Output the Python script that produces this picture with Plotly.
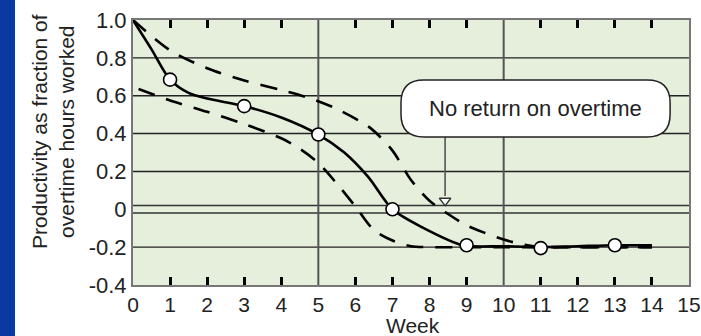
import plotly.graph_objects as go

# ---- data ----
weeks_solid = [0, 0.5, 1, 1.5, 2, 3, 4, 5, 5.7, 6.35, 7, 7.8, 8.9, 10, 11, 12, 13, 14]
prod_solid = [1.0, 0.845, 0.685, 0.615, 0.585, 0.545, 0.485, 0.395, 0.30, 0.17, 0.0, -0.095,
              -0.19, -0.195, -0.2, -0.195, -0.19, -0.19]

weeks_points = [1, 3, 5, 7, 9, 11, 13]
prod_points = [0.685, 0.545, 0.395, 0.0, -0.19, -0.205, -0.19]

weeks_upper = [0, 1, 2, 3, 4, 4.8, 5.5, 6.4, 7, 7.5, 8, 8.5, 9, 9.5, 10, 10.5, 11, 12, 14]
prod_upper = [1.0, 0.84, 0.745, 0.68, 0.63, 0.585, 0.53, 0.43, 0.31, 0.155, 0.045, -0.025,
              -0.085, -0.125, -0.16, -0.185, -0.2, -0.2, -0.2]

weeks_lower = [0.15, 1, 2, 3, 4, 4.5, 5, 5.5, 6, 6.5, 7, 7.5, 8, 10, 14]
prod_lower = [0.635, 0.575, 0.515, 0.45, 0.375, 0.32, 0.245, 0.135, 0.015, -0.11, -0.165,
              -0.195, -0.2, -0.2, -0.2]

x_ticks = list(range(0, 16))
y_ticks = [-0.4, -0.2, 0, 0.2, 0.4, 0.6, 0.8, 1.0]
y_labels = ["-0.4", "-0.2", "0", "0.2", "0.4", "0.6", "0.8", "1.0"]
minor_ticks = [1, 2, 3, 4, 6, 7, 8, 9, 11, 12, 13, 14]
major_grid_x = [5, 10]
zero_pair = [0.02, -0.02]

box_text = "No return on overtime"
y_title = "Productivity as fraction of<br>overtime hours worked"
x_title = "Week"

FONT = "Liberation Sans, Arial, sans-serif"
TXT = "#222222"
FS = 22

fig = go.Figure()

dash = "17px,12px"
fig.add_trace(go.Scatter(x=weeks_upper, y=prod_upper, mode="lines",
                         line=dict(color="black", width=2.6, dash=dash, shape="spline", smoothing=0.8),
                         hoverinfo="skip", showlegend=False))
fig.add_trace(go.Scatter(x=weeks_lower, y=prod_lower, mode="lines",
                         line=dict(color="black", width=2.6, dash=dash, shape="spline", smoothing=0.8),
                         hoverinfo="skip", showlegend=False))
fig.add_trace(go.Scatter(x=weeks_solid, y=prod_solid, mode="lines",
                         line=dict(color="black", width=2.6, shape="spline", smoothing=0.8),
                         hoverinfo="skip", showlegend=False))
fig.add_trace(go.Scatter(x=weeks_points, y=prod_points, mode="markers",
                         marker=dict(symbol="circle", size=13, color="white",
                                     line=dict(color="black", width=1.6)),
                         hoverinfo="skip", showlegend=False))

# arrow marker (triangle) below the callout box
arrow_x = 8.42
fig.add_trace(go.Scatter(x=[arrow_x], y=[0.045], mode="markers",
                         marker=dict(symbol="triangle-down", size=10, color="white",
                                     line=dict(color="#333333", width=1.3)),
                         hoverinfo="skip", showlegend=False))

shapes = []
# blue strip on the left
shapes.append(dict(type="rect", xref="paper", yref="paper", x0=-133 / 556, x1=(15 - 133) / 556,
                   y0=-0.5, y1=1.5, fillcolor="#0a39a2", line=dict(width=0), layer="below"))
# horizontal grid lines
for v in y_ticks:
    if v in (-0.4, 1.0):
        continue
    if v == 0:
        for z in zero_pair:
            shapes.append(dict(type="line", xref="paper", yref="y", x0=0, x1=1, y0=z, y1=z,
                               line=dict(color="#333333", width=1.4), layer="below"))
    else:
        shapes.append(dict(type="line", xref="paper", yref="y", x0=0, x1=1, y0=v, y1=v,
                           line=dict(color="#222222", width=1.4), layer="below"))
# vertical grid lines
for gx in major_grid_x:
    shapes.append(dict(type="line", xref="x", yref="paper", x0=gx, x1=gx, y0=0, y1=1,
                       line=dict(color="#555555", width=2), layer="below"))
# arrow stem
shapes.append(dict(type="line", xref="x", yref="y", x0=arrow_x, x1=arrow_x, y0=0.39, y1=0.07,
                   line=dict(color="#555555", width=1.6), layer="above"))

# rounded callout box
bx0, bx1, by0, by1 = 7.23, 14.49, 0.382, 0.683
rx, ry = 0.62, 0.12
path = (f"M {bx0+rx},{by1} L {bx1-rx},{by1} Q {bx1},{by1} {bx1},{by1-ry} "
        f"L {bx1},{by0+ry} Q {bx1},{by0} {bx1-rx},{by0} L {bx0+rx},{by0} "
        f"Q {bx0},{by0} {bx0},{by0+ry} L {bx0},{by1-ry} Q {bx0},{by1} {bx0+rx},{by1} Z")
shapes.append(dict(type="path", xref="x", yref="y", path=path, fillcolor="white",
                   line=dict(color="#222222", width=1.5), layer="above"))

fig.update_layout(
    width=701, height=336,
    margin=dict(l=133, r=12, t=20, b=51, autoexpand=False),
    paper_bgcolor="white", plot_bgcolor="#e6eedc",
    shapes=shapes,
    font=dict(family=FONT, size=FS, color=TXT),
    annotations=[
        dict(x=10.85, y=0.535, xref="x", yref="y", text=box_text, showarrow=False,
             font=dict(size=FS, color=TXT, family=FONT)),
        dict(x=(53 - 133) / 556, y=(285 - 132) / 265, xref="paper", yref="paper",
             text=y_title, textangle=-90, showarrow=False, xanchor="center", yanchor="middle",
             font=dict(size=21, color=TXT, family=FONT)),
        dict(x=(413 - 133) / 556, y=(285 - 325.5) / 265, xref="paper", yref="paper",
             text=x_title, showarrow=False, xanchor="center", yanchor="middle",
             font=dict(size=21, color=TXT, family=FONT)),
    ],
)

fig.update_xaxes(range=[0, 15], tickvals=x_ticks, ticktext=[str(t) for t in x_ticks],
                 ticks="", showgrid=False, zeroline=False, automargin=False,
                 ticklabeloverflow="allow",
                 showline=True, linecolor="#777777", linewidth=2, mirror="ticks",
                 minor=dict(tickvals=minor_ticks, ticks="inside", ticklen=8, tickwidth=2.5,
                            tickcolor="black", showgrid=False),
                 tickfont=dict(size=21, color=TXT, family=FONT))
fig.update_yaxes(range=[-0.4, 1.0], tickvals=y_ticks, ticktext=y_labels,
                 ticks="", showgrid=False, zeroline=False, automargin=False,
                 ticklabeloverflow="allow",
                 showline=True, linecolor="#777777", linewidth=2, mirror=True,
                 tickfont=dict(size=FS, color=TXT, family=FONT))

fig.write_html("out.html", config={"displayModeBar": False},
               post_script="document.body.style.margin='0';document.body.style.overflow='hidden';")
